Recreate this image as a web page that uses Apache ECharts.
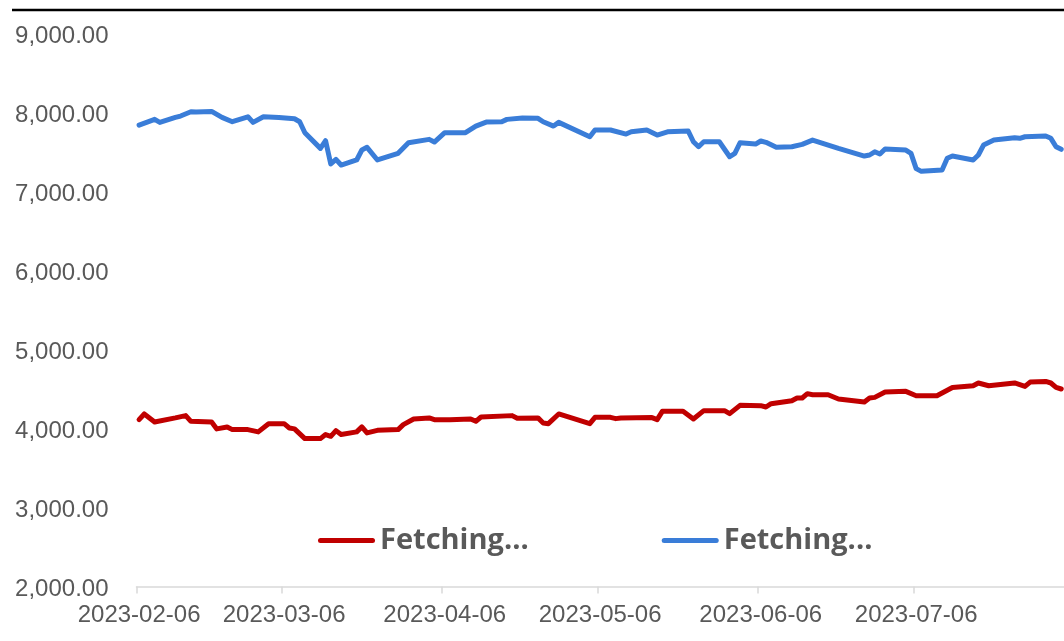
<!DOCTYPE html>
<html>
<head>
<meta charset="utf-8">
<script src="https://cdn.jsdelivr.net/npm/echarts@6/dist/echarts.min.js"></script>
<style>
html,body{margin:0;padding:0;background:#fff;overflow:hidden;width:1064px;height:641px;}
#chart{width:1069px;height:641px;}
</style>
</head>
<body>
<div id="chart"></div>
<script>
// ---- data ----
const startDate = '2023-02-06';
const endDate = '2023-08-04';
const tickLabels = ['2023-02-06','2023-03-06','2023-04-06','2023-05-06','2023-06-06','2023-07-06'];
const yMin = 2000, yMax = 9000, yStep = 1000;
const legendLabels = ['Fetching...', 'Fetching...'];
const seriesColors = ['#c00000', '#3a7dd8'];

const redDates = ['2023-02-06','2023-02-07','2023-02-09','2023-02-13','2023-02-15','2023-02-16','2023-02-20','2023-02-21','2023-02-23','2023-02-24','2023-02-27','2023-03-01','2023-03-03','2023-03-06','2023-03-07','2023-03-08','2023-03-10','2023-03-13','2023-03-14','2023-03-15','2023-03-16','2023-03-17','2023-03-20','2023-03-21','2023-03-22','2023-03-24','2023-03-28','2023-03-29','2023-03-31','2023-04-03','2023-04-04','2023-04-07','2023-04-11','2023-04-12','2023-04-13','2023-04-19','2023-04-20','2023-04-24','2023-04-25','2023-04-26','2023-04-28','2023-05-04','2023-05-05','2023-05-08','2023-05-09','2023-05-10','2023-05-16','2023-05-17','2023-05-18','2023-05-22','2023-05-24','2023-05-26','2023-05-30','2023-05-31','2023-06-02','2023-06-06','2023-06-07','2023-06-08','2023-06-12','2023-06-13','2023-06-14','2023-06-15','2023-06-16','2023-06-19','2023-06-21','2023-06-26','2023-06-27','2023-06-28','2023-06-30','2023-07-04','2023-07-06','2023-07-10','2023-07-13','2023-07-17','2023-07-18','2023-07-20','2023-07-25','2023-07-27','2023-07-28','2023-07-31','2023-08-01','2023-08-02','2023-08-03'];
const redValues = [4112,4184,4083,4134,4163,4091,4083,3995,4020,3986,3986,3957,4061,4061,4007,3995,3872,3872,3923,3901,3973,3923,3957,4020,3944,3977,3986,4049,4121,4134,4112,4112,4121,4091,4146,4163,4129,4134,4070,4061,4184,4061,4141,4141,4125,4134,4138,4112,4217,4217,4121,4226,4226,4188,4293,4289,4272,4314,4352,4386,4386,4441,4428,4428,4374,4336,4386,4394,4462,4470,4415,4415,4520,4541,4576,4541,4576,4533,4588,4596,4576,4520,4500];

const blueDates = ['2023-02-06','2023-02-09','2023-02-10','2023-02-13','2023-02-14','2023-02-16','2023-02-17','2023-02-20','2023-02-22','2023-02-24','2023-02-27','2023-02-28','2023-03-02','2023-03-05','2023-03-08','2023-03-09','2023-03-10','2023-03-13','2023-03-14','2023-03-15','2023-03-16','2023-03-17','2023-03-20','2023-03-21','2023-03-22','2023-03-24','2023-03-28','2023-03-30','2023-04-03','2023-04-04','2023-04-06','2023-04-10','2023-04-12','2023-04-14','2023-04-17','2023-04-18','2023-04-21','2023-04-24','2023-04-25','2023-04-27','2023-04-28','2023-05-04','2023-05-05','2023-05-08','2023-05-11','2023-05-12','2023-05-15','2023-05-17','2023-05-19','2023-05-23','2023-05-24','2023-05-25','2023-05-26','2023-05-29','2023-05-31','2023-06-01','2023-06-02','2023-06-05','2023-06-06','2023-06-07','2023-06-09','2023-06-12','2023-06-14','2023-06-16','2023-06-21','2023-06-26','2023-06-27','2023-06-28','2023-06-29','2023-06-30','2023-07-04','2023-07-05','2023-07-06','2023-07-07','2023-07-11','2023-07-12','2023-07-13','2023-07-17','2023-07-18','2023-07-19','2023-07-21','2023-07-25','2023-07-26','2023-07-27','2023-07-31','2023-08-01','2023-08-02','2023-08-03'];
const blueValues = [7841,7913,7875,7938,7955,8009,8005,8014,7938,7883,7946,7875,7946,7938,7921,7883,7744,7546,7643,7348,7407,7335,7399,7525,7559,7399,7483,7617,7660,7626,7744,7744,7828,7879,7883,7913,7929,7926,7883,7828,7875,7693,7778,7778,7727,7756,7778,7715,7756,7765,7630,7567,7630,7630,7440,7483,7617,7600,7639,7622,7559,7567,7597,7651,7546,7449,7462,7503,7474,7538,7525,7483,7290,7255,7272,7420,7449,7399,7462,7588,7651,7680,7673,7693,7702,7673,7567,7534];

// ---- build ----
function buildDays(s, e) {
  const out = [];
  let t = Date.parse(s + 'T00:00:00Z');
  const end = Date.parse(e + 'T00:00:00Z');
  while (t <= end) { out.push(new Date(t).toISOString().slice(0, 10)); t += 86400000; }
  return out;
}
const categories = buildDays(startDate, endDate);
const zip = (a, b) => a.map((d, i) => [d, b[i]]);
const showTick = (i, v) => tickLabels.indexOf(v) >= 0;
const fmt = v => v.toLocaleString('en-US', {minimumFractionDigits: 2, maximumFractionDigits: 2});

const chart = echarts.init(document.getElementById('chart'), null, {renderer: 'canvas'});
const legendIcon = 'path://M2.5,0 L54.5,0 A2.5,2.5 0 0 1 54.5,5 L2.5,5 A2.5,2.5 0 0 1 2.5,0 Z';
chart.setOption({
  animation: false,
  backgroundColor: '#ffffff',
  color: seriesColors,
  grid: {left: 136.5, right: 0, top: 33.5, bottom: 54.5, containLabel: false},
  graphic: [{
    type: 'rect', left: 12, top: 8.7, shape: {width: 1057, height: 2.6},
    style: {fill: '#000'}, silent: true
  }],
  legend: {
    left: 313, top: 521,
    itemWidth: 57, itemHeight: 5, itemGap: 133,
    icon: legendIcon,
    data: ['s1', 's2'],
    formatter: name => legendLabels[name === 's1' ? 0 : 1],
    textStyle: {fontFamily: 'Open Sans', fontWeight: 'bold', fontSize: 29, color: '#595959'}
  },
  xAxis: {
    type: 'category',
    data: categories,
    boundaryGap: true,
    axisLine: {show: true, lineStyle: {color: '#d9d9d9', width: 1.5}},
    axisTick: {show: true, interval: showTick, length: 7, lineStyle: {color: '#d9d9d9', width: 1.5}},
    axisLabel: {interval: showTick, margin: 17, fontFamily: 'Liberation Sans', fontSize: 24, color: '#595959'},
    splitLine: {show: false}
  },
  yAxis: {
    type: 'value',
    min: yMin, max: yMax, interval: yStep,
    axisLine: {show: false},
    axisTick: {show: false},
    splitLine: {show: false},
    axisLabel: {margin: 28, verticalAlign: 'top', lineHeight: 5, formatter: fmt, fontFamily: 'Liberation Sans', fontSize: 24, color: '#595959'}
  },
  series: [
    {name: 's1', type: 'line', data: zip(redDates, redValues), showSymbol: false, symbol: 'none',
     lineStyle: {width: 5, color: seriesColors[0], cap: 'round', join: 'round'}},
    {name: 's2', type: 'line', data: zip(blueDates, blueValues), showSymbol: false, symbol: 'none',
     lineStyle: {width: 5, color: seriesColors[1], cap: 'round', join: 'round'}}
  ]
});
</script>
</body>
</html>
